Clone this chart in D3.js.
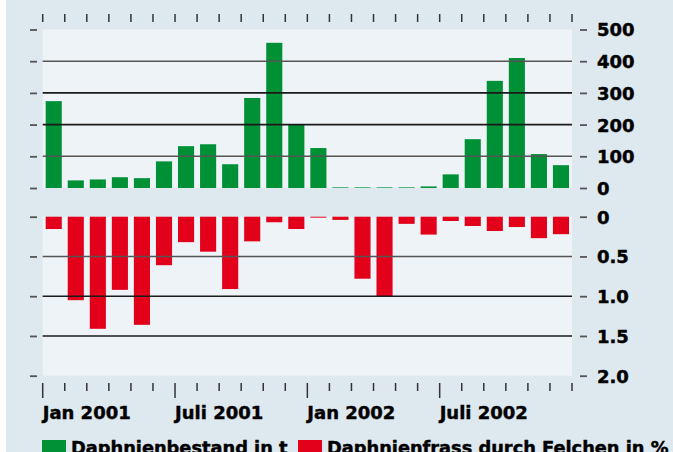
<!DOCTYPE html>
<html>
<head>
<meta charset="utf-8">
<script src="https://cdn.jsdelivr.net/npm/d3@7"></script>
<style>
  body { margin: 0; background: #fff; }
  svg { display: block; }
  text { font-family: "DejaVu Sans", sans-serif; font-weight: bold; fill: #000; stroke: #000; stroke-width: 0.45px; }
</style>
</head>
<body>
<div class="canvas"></div>
<script>
// months Jan 2001 .. Dec 2002
const months = d3.range(24).map(i => new Date(2001, i, 1))
// Daphnienbestand in t
const bestand = [274, 24, 27, 34, 31, 84, 132, 138, 75, 284, 458, 200,
                 126, 2, 2, 2, 2, 5, 43, 154, 338, 410, 107, 72]
// Daphnienfrass durch Felchen in %
const frass = [0.155, 1.05, 1.41, 0.92, 1.36, 0.61, 0.32, 0.44, 0.91, 0.31, 0.07, 0.155,
               0.012, 0.04, 0.78, 1.0, 0.09, 0.225, 0.054, 0.117, 0.18, 0.13, 0.27, 0.22]
const topTicks = [0, 100, 200, 300, 400, 500]
const bottomTicks = [0, 0.5, 1.0, 1.5, 2.0]
const monthLabels = [
    {i: 0, label: 'Jan 2001'},
    {i: 6, label: 'Juli 2001'},
    {i: 12, label: 'Jan 2002'},
    {i: 18, label: 'Juli 2002'}
]
const legendItems = [
    {label: 'Daphnienbestand in t', color: '#009036'},
    {label: 'Daphnienfrass durch Felchen in %', color: '#e3001b'}
]

const W = 673, H = 452
const svg = d3.select('.canvas').append('svg')
    .attr('width', W)
    .attr('height', H)

// background
svg.append('rect').attr('x', 6).attr('y', 0).attr('width', W - 6).attr('height', H).attr('fill', '#dee8ef')

const left = 42.7, right = 572

const x = d3.scaleBand()
    .domain(months)
    .range([left, right])
    .paddingInner(0.27)
    .paddingOuter(0.135)

// month boundaries for the tick marks
const xt = d3.scaleLinear().domain([0, months.length]).range([left, right])

const yTop = d3.scaleLinear().domain([0, 500]).range([188, 29.5])
const yBot = d3.scaleLinear().domain([0, 2]).range([216.7, 375.7])

// panels
svg.append('rect').attr('x', left).attr('y', yTop(500))
    .attr('width', right - left).attr('height', yTop(0) - yTop(500)).attr('fill', '#eef3f7')
svg.append('rect').attr('x', left).attr('y', yBot(0))
    .attr('width', right - left).attr('height', yBot(2) - yBot(0)).attr('fill', '#eef3f7')

// bars
svg.selectAll('.gbar').data(bestand).enter()
    .append('rect').attr('class', 'gbar')
    .attr('x', (d, i) => x(months[i]))
    .attr('width', x.bandwidth())
    .attr('y', d => yTop(d))
    .attr('height', d => yTop(0) - yTop(d))
    .attr('fill', '#009036')

svg.selectAll('.rbar').data(frass).enter()
    .append('rect').attr('class', 'rbar')
    .attr('x', (d, i) => x(months[i]))
    .attr('width', x.bandwidth())
    .attr('y', yBot(0))
    .attr('height', d => yBot(d) - yBot(0))
    .attr('fill', '#e3001b')

// gridlines (on top of bars)
const grid = svg.append('g')
grid.selectAll('.gt').data(topTicks.slice(1, -1)).enter()
    .append('line')
    .attr('x1', left).attr('x2', right)
    .attr('y1', d => yTop(d)).attr('y2', d => yTop(d))
    .attr('stroke', d => (d == 100 || d == 400) ? '#555' : '#1a1a1a')
    .attr('stroke-width', 1.6)
grid.selectAll('.gb').data(bottomTicks.slice(1, -1)).enter()
    .append('line')
    .attr('x1', left).attr('x2', right)
    .attr('y1', d => yBot(d)).attr('y2', d => yBot(d))
    .attr('stroke', d => d == 0.5 ? '#555' : '#1a1a1a')
    .attr('stroke-width', 1.6)

// y axes
const styleAxis = g => {
    g.select('.domain').remove()
    g.selectAll('.tick line').attr('stroke', '#555').attr('stroke-width', 1.8)
    g.selectAll('.tick text')
        .attr('font-family', '"DejaVu Sans", sans-serif')
        .attr('font-weight', 'bold')
        .attr('font-size', 18)
        .attr('fill', '#000')
        .attr('text-anchor', 'start')
        .attr('dy', '0.36em')
}

svg.append('g').attr('transform', 'translate(580,0)')
    .call(d3.axisRight(yTop).tickValues(topTicks).tickSize(7).tickPadding(10).tickFormat(d3.format('d')))
    .call(styleAxis)
svg.append('g').attr('transform', 'translate(580,0)')
    .call(d3.axisRight(yBot).tickValues(bottomTicks).tickSize(7).tickPadding(10)
        .tickFormat(d => d == 0 ? '0' : d3.format('.1f')(d)))
    .call(styleAxis)
svg.append('g').attr('transform', 'translate(37,0)')
    .call(d3.axisLeft(yTop).tickValues(topTicks).tickSize(7).tickFormat(''))
    .call(styleAxis)
svg.append('g').attr('transform', 'translate(37,0)')
    .call(d3.axisLeft(yBot).tickValues(bottomTicks).tickSize(7).tickFormat(''))
    .call(styleAxis)

// month tick marks top and bottom
const tickIdx = d3.range(months.length + 1)
svg.selectAll('.tt').data(tickIdx).enter()
    .append('line')
    .attr('x1', d => xt(d)).attr('x2', d => xt(d))
    .attr('y1', 14).attr('y2', 22)
    .attr('stroke', '#333').attr('stroke-width', 1.5)
svg.selectAll('.bt').data(tickIdx).enter()
    .append('line')
    .attr('x1', d => xt(d)).attr('x2', d => xt(d))
    .attr('y1', 383).attr('y2', d => d % 6 == 0 && d < 24 ? 398 : 391)
    .attr('stroke', '#333').attr('stroke-width', 1.5)

// month labels
svg.selectAll('.ml').data(monthLabels).enter()
    .append('text')
    .attr('x', d => xt(d.i))
    .attr('y', 419)
    .attr('font-size', 18)
    .text(d => d.label)

// legend
const legendX = [42, 298]
const lg = svg.selectAll('.lg').data(legendItems).enter()
    .append('g').attr('transform', (d, i) => `translate(${legendX[i]},440)`)
lg.append('rect').attr('width', 24).attr('height', 24).attr('fill', d => d.color).attr('stroke', 'none')
lg.append('text').attr('x', 29).attr('y', 13.5).attr('font-size', 17.8).text(d => d.label)
</script>
</body>
</html>
